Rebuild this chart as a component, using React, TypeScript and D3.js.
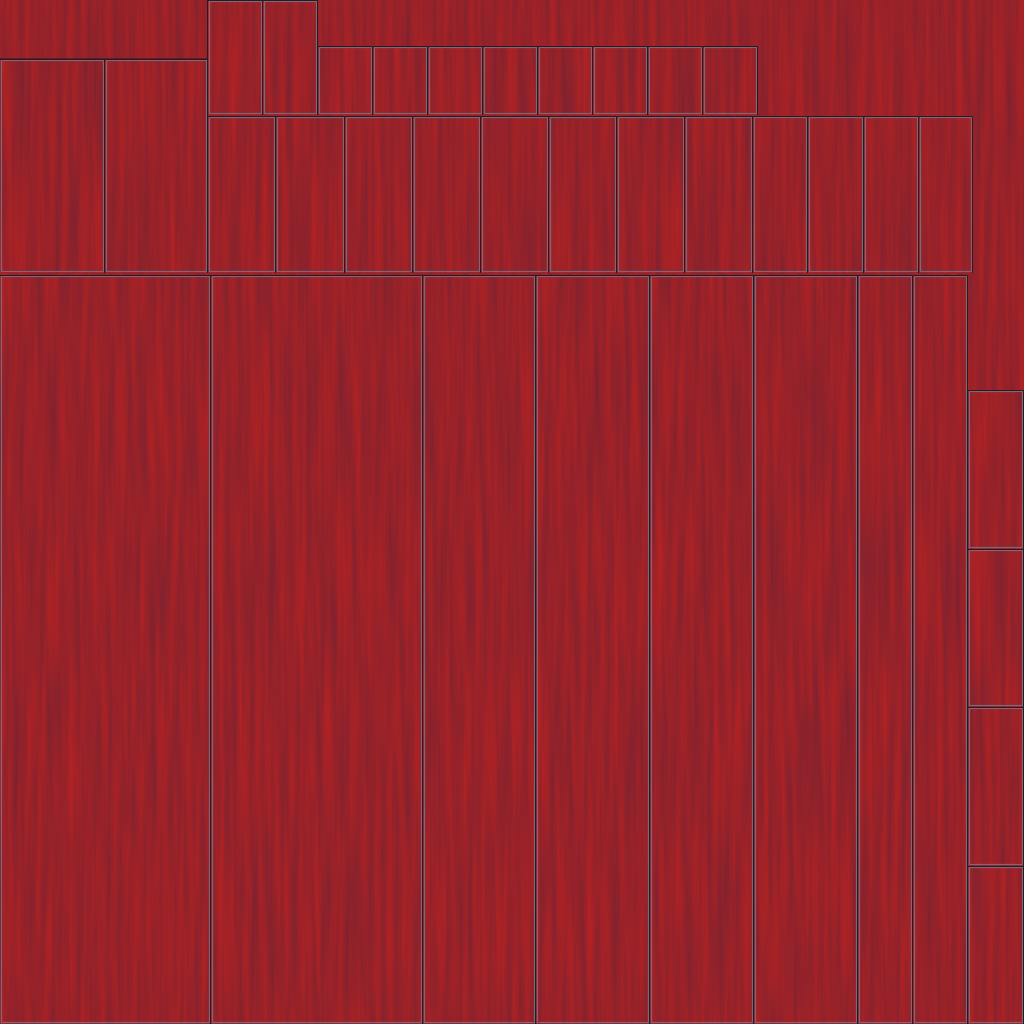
import { useEffect, useRef } from "react";
import * as d3 from "d3";

// atlas tiles, in source pixels (0..1024)
const rowTopSmall = { y0: 0, y1: 115, cols: [208, 263, 318] };
const rowStrip = { y0: 46, y1: 115, cols: [318, 373, 428, 483, 538, 593, 648, 703, 758] };
const rowLeft = { y0: 59, y1: 273, cols: [0, 105, 208] };
const rowMid = { y0: 116, y1: 273, cols: [208, 276, 345, 413, 481, 549, 617, 685, 753, 808, 864, 919, 973] };
const rowBottom = { y0: 275, y1: 1024, cols: [0, 211, 423, 536, 650, 754, 858, 913, 968] };
const colRight = { x0: 968, x1: 1024, rows: [390, 549, 707, 866, 1024] };

type Tile = { x0: number; y0: number; x1: number; y1: number };

function buildTiles(): Tile[] {
  const out: Tile[] = [];
  [rowTopSmall, rowStrip, rowLeft, rowMid, rowBottom].forEach((r) => {
    d3.pairs(r.cols).forEach(([a, b]) => out.push({ x0: a, x1: b, y0: r.y0, y1: r.y1 }));
  });
  d3.pairs(colRight.rows).forEach(([a, b]) => out.push({ x0: colRight.x0, x1: colRight.x1, y0: a, y1: b }));
  return out;
}

export default function App() {
  const ref = useRef<HTMLDivElement | null>(null);

  useEffect(() => {
    if (!ref.current) return;
    const el = ref.current;
    el.innerHTML = "";

    const size = 1024;
    const tiles = buildTiles();

    const x = d3.scaleLinear().domain([0, 1024]).range([0, size]);
    const y = d3.scaleLinear().domain([0, 1024]).range([0, size]);

    const svg = d3.select(el)
      .append("svg")
      .attr("width", size)
      .attr("height", size)
      .style("position", "fixed")
      .style("left", "0px")
      .style("top", "0px");

    const defs = svg.append("defs");
    const seeds = [3, 11, 23, 37, 51];
    seeds.forEach((s, i) => {
      const f = defs.append("filter")
        .attr("id", `wood${i}`)
        .attr("filterUnits", "userSpaceOnUse")
        .attr("x", 0).attr("y", 0).attr("width", size).attr("height", size)
        .attr("color-interpolation-filters", "sRGB");
      f.append("feTurbulence")
        .attr("type", "fractalNoise")
        .attr("baseFrequency", "0.16 0.006")
        .attr("numOctaves", 3)
        .attr("seed", s)
        .attr("result", "noise");
      f.append("feColorMatrix")
        .attr("in", "noise")
        .attr("type", "matrix")
        .attr("values", [
          "0.26 0 0 0 0.465",
          "0 0 0 0 0.135",
          "-0.06 0 0 0 0.19",
          "0 0 0 0 1",
        ].join(" "))
        .attr("result", "col");
      f.append("feComposite")
        .attr("in", "col")
        .attr("in2", "SourceGraphic")
        .attr("operator", "in");
    });

    // background sheet
    svg.append("rect")
      .attr("x", 0).attr("y", 0)
      .attr("width", size).attr("height", size)
      .attr("fill", "#000")
      .attr("filter", "url(#wood0)");

    const g = svg.append("g");

    const t = g.selectAll("g.tile")
      .data(tiles)
      .join("g")
      .attr("class", "tile");

    t.append("rect")
      .attr("x", (d) => x(d.x0))
      .attr("y", (d) => y(d.y0))
      .attr("width", (d) => x(d.x1) - x(d.x0))
      .attr("height", (d) => y(d.y1) - y(d.y0))
      .attr("fill", "#000")
      .attr("filter", (_d, i) => `url(#wood${1 + (i % 4)})`);

    // inner grey edge
    t.append("rect")
      .attr("x", (d) => x(d.x0) + 1.5)
      .attr("y", (d) => y(d.y0) + 1.5)
      .attr("width", (d) => x(d.x1) - x(d.x0) - 3)
      .attr("height", (d) => y(d.y1) - y(d.y0) - 3)
      .attr("fill", "none")
      .attr("stroke", "#806676")
      .attr("stroke-width", 1.2);

    // dark top and right edges
    t.append("path")
      .attr("d", (d) => `M${x(d.x0)},${y(d.y0) + 0.5}H${x(d.x1) - 0.5}V${y(d.y1)}`)
      .attr("fill", "none")
      .attr("stroke", "#2a1a20")
      .attr("stroke-width", 1);

    // dark edge left of the first small tile, beside the bare sheet
    g.append("path")
      .attr("d", `M${x(rowTopSmall.cols[0]) - 0.5},0V${y(rowLeft.y0)}H0`)
      .attr("fill", "none")
      .attr("stroke", "#2a1a20")
      .attr("stroke-width", 1);
  }, []);

  return <div ref={ref} />;
}
